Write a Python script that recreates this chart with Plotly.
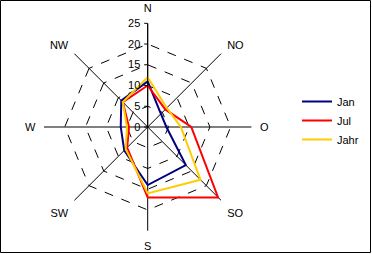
import plotly.graph_objects as go

directions = ["N", "NO", "O", "SO", "S", "SW", "W", "NW"]
jan = [11, 4.5, 4.5, 13, 14, 8, 6.5, 9]
jul = [10, 6, 10.5, 24, 17, 7, 4.5, 8.5]
jahr = [12, 6.5, 8, 18, 16, 7.5, 5, 8.5]
radial_ticks = [0, 5, 10, 15, 20, 25]

series = [("Jan", jan, "#000080"), ("Jul", jul, "#FF0000"), ("Jahr", jahr, "#FFCC00")]

fig = go.Figure()
for name, vals, col in series:
    fig.add_trace(go.Scatterpolar(
        r=vals + [vals[0]], theta=directions + [directions[0]],
        mode="lines", name=name, line=dict(color=col, width=2),
    ))

W, H = 372, 254
cx, cy, rad = 147.7, 127.0, 103.7
fig.update_layout(
    width=W, height=H,
    margin=dict(l=0, r=0, t=0, b=0),
    paper_bgcolor="white", plot_bgcolor="white",
    font=dict(family="Liberation Sans, Arial, sans-serif", size=11, color="black"),
    showlegend=True,
    legend=dict(x=297 / W, y=1 - 87 / H, xanchor="left", yanchor="top",
                bgcolor="rgba(0,0,0,0)", tracegroupgap=0,
                font=dict(size=11), itemwidth=30),
    polar=dict(
        domain=dict(x=[(cx - rad) / W, (cx + rad) / W], y=[1 - (cy + rad) / H, 1 - (cy - rad) / H]),
        bgcolor="white",
        gridshape="linear",
        radialaxis=dict(
            range=[0, 25], tickvals=radial_ticks, angle=90, tickangle=90,
            side="counterclockwise",
            showgrid=True, gridcolor="black", griddash="dash", gridwidth=1,
            showline=True, linecolor="black", linewidth=1,
            ticks="outside", ticklen=3, tickcolor="black",
            tickfont=dict(size=11),
        ),
        angularaxis=dict(
            categoryarray=directions, categoryorder="array",
            rotation=90, direction="clockwise",
            showgrid=True, gridcolor="black", gridwidth=1,
            showline=False, ticks="outside", ticklen=6, tickcolor="rgba(0,0,0,0)",
            tickfont=dict(size=11),
        ),
    ),
    shapes=[dict(type="rect", xref="paper", yref="paper",
                 x0=0.5 / W, x1=370.5 / W, y0=1 - 252.5 / H, y1=1 - 0.5 / H,
                 line=dict(color="black", width=1))],
)

fig.write_html("out.html")
